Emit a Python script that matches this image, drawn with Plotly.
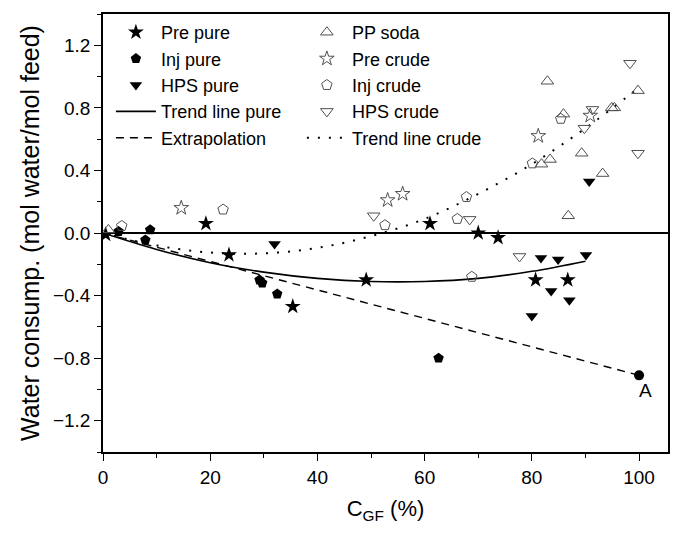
import plotly.graph_objects as go

# ---- data ----
pre_pure_x = [0.5, 19.2, 23.5, 35.4, 49.1, 61.0, 70.0, 73.7, 80.7, 86.7]
pre_pure_y = [-0.01, 0.06, -0.14, -0.47, -0.30, 0.06, 0.0, -0.03, -0.30, -0.30]

inj_pure_x = [2.9, 7.9, 8.8, 29.2, 29.7, 32.5, 62.6]
inj_pure_y = [0.01, -0.045, 0.02, -0.30, -0.32, -0.39, -0.80]

hps_pure_x = [32.0, 90.7, 81.7, 84.9, 90.1, 83.6, 87.0, 80.0]
hps_pure_y = [-0.07, 0.33, -0.16, -0.17, -0.14, -0.37, -0.43, -0.53]

pp_soda_x = [1.0, 82.9, 99.8, 94.9, 95.4, 85.9, 83.4, 81.8, 89.3, 93.2, 86.8]
pp_soda_y = [0.02, 0.97, 0.91, 0.80, 0.80, 0.76, 0.47, 0.44, 0.51, 0.38, 0.11]

pre_crude_x = [14.6, 53.1, 55.9, 81.2, 90.9]
pre_crude_y = [0.16, 0.21, 0.25, 0.62, 0.75]

inj_crude_x = [3.5, 22.4, 52.6, 66.1, 67.8, 80.1, 85.4, 68.8]
inj_crude_y = [0.045, 0.15, 0.05, 0.09, 0.23, 0.445, 0.73, -0.28]

hps_crude_x = [98.3, 99.8, 91.3, 89.8, 50.5, 68.4, 77.7]
hps_crude_y = [1.085, 0.51, 0.79, 0.67, 0.11, 0.087, -0.15]

trend_pure_x = [0, 10, 20, 30, 40, 50, 60, 70, 80, 90]
trend_pure_y = [0, -0.105, -0.19, -0.25, -0.29, -0.31, -0.31, -0.29, -0.245, -0.18]

extrap_x = [0, 100]
extrap_y = [0, -0.91]

trend_crude_x = [0, 10, 20, 30, 40, 50, 60, 70, 80, 90, 100]
trend_crude_y = [0, -0.08, -0.125, -0.13, -0.095, -0.02, 0.09, 0.25, 0.44, 0.67, 0.93]

point_a_x = [100]
point_a_y = [-0.91]
point_a_label = "A"

FONT = "Liberation Sans, Arial, sans-serif"
OPEN_COLOR = "#505050"

fig = go.Figure()

def filled(name, x, y, symbol, size, rank):
    fig.add_trace(go.Scatter(x=x, y=y, mode="markers", name=name, legend="legend",
                             legendrank=rank,
                             marker=dict(symbol=symbol, size=size, color="black",
                                         line=dict(width=0))))

def opened(name, x, y, symbol, size, rank):
    fig.add_trace(go.Scatter(x=x, y=y, mode="markers", name=name, legend="legend2",
                             legendrank=rank,
                             marker=dict(symbol=symbol, size=size, color=OPEN_COLOR,
                                         line=dict(width=1, color=OPEN_COLOR))))

# line traces first so markers sit on top
fig.add_trace(go.Scatter(x=trend_pure_x, y=trend_pure_y, mode="lines", name="Trend line pure",
                         legend="legend", line=dict(color="black", width=1.6, shape="spline"),
                         legendrank=4))
fig.add_trace(go.Scatter(x=extrap_x, y=extrap_y, mode="lines", name="Extrapolation",
                         legend="legend", line=dict(color="black", width=1.4, dash="8px,6px"),
                         legendrank=5))
fig.add_trace(go.Scatter(x=trend_crude_x, y=trend_crude_y, mode="lines", name="Trend line crude",
                         legend="legend2", line=dict(color="black", width=2, dash="2px,9px",
                                                     shape="spline"),
                         legendrank=10))

filled("Pre pure", pre_pure_x, pre_pure_y, "star", 12, 1)
filled("Inj pure", inj_pure_x, inj_pure_y, "pentagon", 11, 2)
filled("HPS pure", hps_pure_x, hps_pure_y, "triangle-down", 11, 3)

opened("PP soda", pp_soda_x, pp_soda_y, "triangle-up-open", 11, 6)
opened("Pre crude", pre_crude_x, pre_crude_y, "star-open", 11, 7)
opened("Inj crude", inj_crude_x, inj_crude_y, "pentagon-open", 11, 8)
opened("HPS crude", hps_crude_x, hps_crude_y, "triangle-down-open", 11, 9)

fig.add_trace(go.Scatter(x=point_a_x, y=point_a_y, mode="markers", showlegend=False,
                         marker=dict(symbol="circle", size=10, color="black")))
fig.add_annotation(x=point_a_x[0], y=point_a_y[0], text=point_a_label, showarrow=False,
                   xanchor="left", yanchor="top", xshift=-2, yshift=-3,
                   font=dict(family=FONT, size=19, color="black"))

axis_common = dict(showgrid=False, showline=True, linecolor="black", linewidth=1.5,
                   mirror=True, ticks="outside", ticklen=7, tickwidth=1.3, tickcolor="black",
                   tickfont=dict(family=FONT, size=19, color="black"))

fig.update_xaxes(range=[0, 105.4], tick0=0, dtick=20, zeroline=False,
                 minor=dict(ticks="outside", dtick=10, ticklen=4, tickwidth=1.3, tickcolor="black"),
                 title=dict(text="C<sub>GF</sub> (%)", font=dict(family=FONT, size=22, color="black"),
                            standoff=14),
                 **axis_common)
fig.update_yaxes(range=[-1.4, 1.4], tick0=0, dtick=0.4, tickformat=".1f",
                 zeroline=True, zerolinecolor="black", zerolinewidth=1.5,
                 minor=dict(ticks="outside", dtick=0.2, ticklen=4, tickwidth=1.3, tickcolor="black"),
                 title=dict(text="Water consump. (mol water/mol feed)",
                            font=dict(family=FONT, size=25, color="black"), standoff=6),
                 **axis_common)

legend_common = dict(bgcolor="rgba(0,0,0,0)", borderwidth=0, yanchor="top", xanchor="left",
                     font=dict(family=FONT, size=18, color="black"), tracegroupgap=0,
                     itemsizing="trace", itemwidth=40)
fig.update_layout(
    width=682, height=535, autosize=False,
    margin=dict(l=103, r=14, t=14, b=83),
    plot_bgcolor="white", paper_bgcolor="white",
    legend=dict(x=0.014, y=1.0, **legend_common),
    legend2=dict(x=0.352, y=1.0, **legend_common),
    font=dict(family=FONT, color="black"),
)

fig.write_html("out.html")
